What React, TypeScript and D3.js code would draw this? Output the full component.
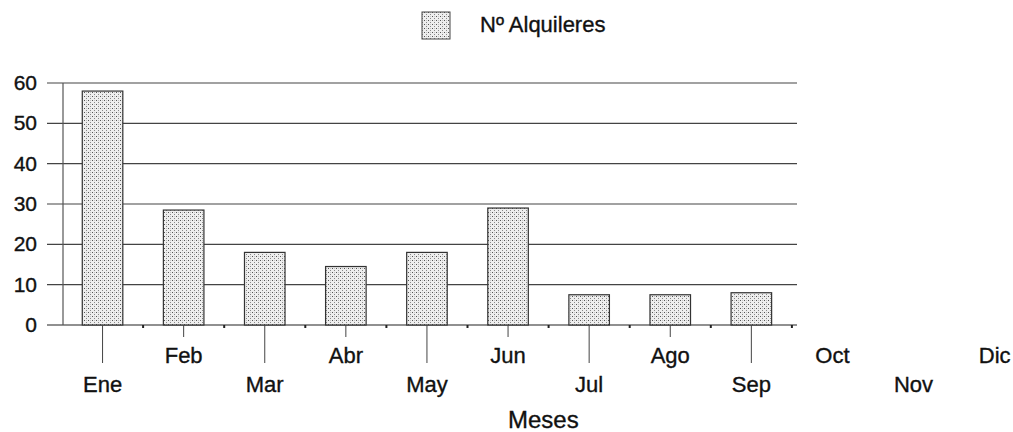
import * as d3 from "d3";
import { useEffect, useRef } from "react";

const months = ["Ene", "Feb", "Mar", "Abr", "May", "Jun", "Jul", "Ago", "Sep", "Oct", "Nov", "Dic"];
const alquileres = [58, 28.5, 18, 14.5, 18, 29, 7.5, 7.5, 8];
const yTicks = [0, 10, 20, 30, 40, 50, 60];
const seriesName = "Nº Alquileres";
const xTitle = "Meses";

export default function App() {
  const ref = useRef<SVGSVGElement>(null);

  useEffect(() => {
    const W = 1013, H = 432;
    const axisLeft = 62, axisRight = 797;
    const svg = d3.select(ref.current);
    svg.selectAll("*").remove();
    svg.attr("width", W).attr("height", H);

    const font = "'Liberation Sans', Arial, sans-serif";

    // stipple fill
    const defs = svg.append("defs");
    const pat = defs.append("pattern").attr("id", "stip").attr("patternUnits", "userSpaceOnUse")
      .attr("width", 4).attr("height", 4);
    pat.append("rect").attr("width", 4).attr("height", 4).attr("fill", "#eeeeee");
    pat.append("rect").attr("x", 0).attr("y", 0).attr("width", 1).attr("height", 1).attr("fill", "#555");
    pat.append("rect").attr("x", 2).attr("y", 2).attr("width", 1).attr("height", 1).attr("fill", "#888");
    pat.append("rect").attr("x", 2).attr("y", 0).attr("width", 1).attr("height", 1).attr("fill", "#c4c4c4");

    const step = 81.1;
    const x = d3.scaleBand().domain(months).range([axisLeft, axisLeft + 12 * step]).paddingInner(0.5).paddingOuter(0.25);
    const y = d3.scaleLinear().domain([0, 60]).range([325, 83]);

    const txt = (sel: any, size: number) =>
      sel.style("font", size + "px " + font).style("fill", "#111")
        .style("stroke", "#111").style("stroke-width", 0.35);

    // gridlines
    svg.append("g").selectAll("line").data(yTicks).enter().append("line")
      .attr("x1", 47).attr("x2", axisRight)
      .attr("y1", d => y(d)).attr("y2", d => y(d))
      .attr("stroke", d => d === 0 ? "#222" : "#444").attr("stroke-width", 1.2);

    // y axis
    svg.append("line").attr("x1", axisLeft + 1).attr("x2", axisLeft + 1).attr("y1", y(60)).attr("y2", y(0))
      .attr("stroke", "#555").attr("stroke-width", 1.2);

    txt(svg.append("g").selectAll("text").data(yTicks).enter().append("text")
      .attr("x", 37).attr("y", d => y(d) + 7)
      .attr("text-anchor", "end")
      .text(d => d), 21);

    // bars
    svg.append("g").selectAll("rect").data(alquileres).enter().append("rect")
      .attr("x", (d, i) => x(months[i])!)
      .attr("width", x.bandwidth())
      .attr("y", d => y(d))
      .attr("height", d => y(0) - y(d))
      .attr("fill", "url(#stip)")
      .attr("stroke", "#333").attr("stroke-width", 1.2);

    // x ticks + labels
    const center = (m: string) => x(m)! + x.bandwidth() / 2;
    svg.append("g").selectAll("line").data(months.filter(m => center(m) < axisRight)).enter().append("line")
      .attr("x1", d => center(d)).attr("x2", d => center(d))
      .attr("y1", y(0)).attr("y2", d => months.indexOf(d) % 2 === 0 ? 363 : 337)
      .attr("stroke", "#444").attr("stroke-width", 1);

    // minor marks between months
    svg.append("g").selectAll("line").data(months.slice(1).filter(m => x(m)! - x.step() * 0.25 < axisRight)).enter().append("line")
      .attr("x1", d => x(d)! - x.step() * 0.25).attr("x2", d => x(d)! - x.step() * 0.25)
      .attr("y1", y(0)).attr("y2", y(0) + 3)
      .attr("stroke", "#222").attr("stroke-width", 2);

    txt(svg.append("g").selectAll("text").data(months).enter().append("text")
      .attr("x", d => center(d))
      .attr("y", (d, i) => i % 2 === 0 ? 392 : 363)
      .attr("text-anchor", "middle")
      .text(d => d), 22);

    txt(svg.append("text").attr("x", 508).attr("y", 428)
      .text(xTitle), 24);

    // legend
    svg.append("rect").attr("x", 422).attr("y", 12).attr("width", 28).attr("height", 27)
      .attr("fill", "url(#stip)").attr("stroke", "#444").attr("stroke-width", 1);
    txt(svg.append("text").attr("x", 480).attr("y", 32).text(seriesName), 22);
  }, []);

  return (
    <svg ref={ref} style={{ position: "absolute", left: 0, top: 0, background: "#fff" }} />
  );
}
